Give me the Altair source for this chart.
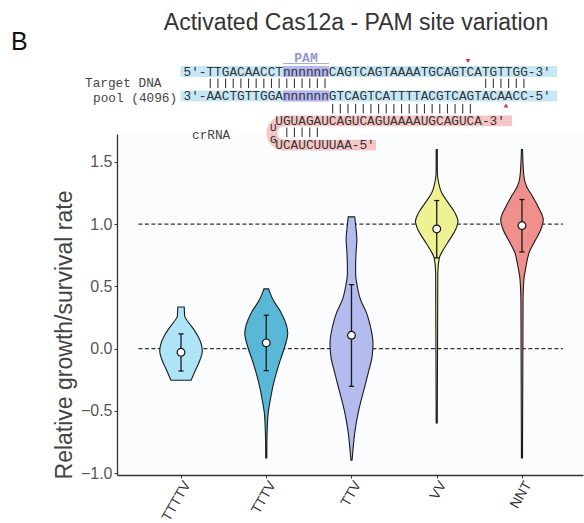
import math
import altair as alt
import pandas as pd

# ---- data -------------------------------------------------------------
categories = ["TTTTV", "TTTV", "TTV", "VV", "NNT"]
fill_colors = ["#aee5f6", "#59b8d8", "#b3bbef", "#eef292", "#f0908c"]

medians = [-0.03, 0.046, 0.107, 0.962, 0.989]
whisker_low = [-0.18, -0.177, -0.303, 0.729, 0.777]
whisker_high = [0.118, 0.268, 0.514, 1.19, 1.198]

# violin outlines: sampled values and normalised density (1 = widest)
violin_values = {
    "TTTTV": [0.335, 0.26, 0.206, 0.153, 0.099, 0.032, -0.021, -0.102, -0.182, -0.254],
    "TTTV": [0.48, 0.394, 0.287, 0.193, 0.126, 0.019, -0.088, -0.195, -0.303, -0.41,
             -0.517, -0.625, -0.75, -0.879],
    "TTV": [1.059, 0.983, 0.876, 0.769, 0.608, 0.501, 0.394, 0.287, 0.179, 0.046,
            -0.062, -0.195, -0.356, -0.517, -0.678, -0.812, -0.898],
    "VV": [1.60, 1.412, 1.332, 1.252, 1.171, 1.091, 1.024, 0.957, 0.876, 0.796,
           0.729, 0.608, -0.597],
    "NNT": [1.60, 1.385, 1.305, 1.224, 1.144, 1.037, 0.957, 0.876, 0.769, 0.662,
            0.555, 0.394, -0.879],
}
violin_density = {
    "TTTTV": [0.15, 0.17, 0.37, 0.60, 0.79, 0.95, 0.99, 0.86, 0.65, 0.47],
    "TTTV": [0.11, 0.31, 0.70, 0.93, 1.0, 0.87, 0.66, 0.47, 0.31, 0.19, 0.09, 0.05,
             0.03, 0.025],
    "TTV": [0.15, 0.2, 0.25, 0.21, 0.19, 0.27, 0.42, 0.70, 0.88, 1.0, 0.96, 0.78,
            0.54, 0.31, 0.15, 0.07, 0.025],
    "VV": [0.025, 0.03, 0.09, 0.23, 0.54, 0.85, 0.99, 0.88, 0.6, 0.31, 0.12, 0.05,
           0.025],
    "NNT": [0.025, 0.09, 0.21, 0.49, 0.74, 0.99, 0.88, 0.64, 0.33, 0.19, 0.09, 0.05,
            0.025],
}
reference_levels = [0.0, 1.0]

y_ticks = [-1.0, -0.5, 0.0, 0.5, 1.0, 1.5]

# sequence annotation
top_strand = "5'-TTGACAACCTnnnnnnCAGTCAGTAAAATGCAGTCATGTTGG-3'"
bottom_strand = "3'-AACTGTTGGAnnnnnnGTCAGTCATTTTACGTCAGTACAACC-5'"
crrna_top = "UGUAGAUCAGUCAGUAAAAUGCAGUCA-3'"
crrna_bottom = "UCAUCUUUAA-5'"
# paired base positions (character index along the strands)
dna_pairs = list(range(3, 19)) + list(range(39, 45))
guide_pairs = list(range(19, 38))
hairpin_pairs = list(range(13, 18))

# ---- layout helpers ---------------------------------------------------
LEFT, TOP = 117, 134          # plot origin inside the page
W, H = 466, 341
HALF = 0.252                  # widest violin half-width, in category units
MONO = "Liberation Mono"
SANS = "Liberation Sans"
FS = 12.75                    # monospace size
CW = FS * 0.6                 # monospace advance
X0 = 183.5                    # left edge of the strands


def px(x):
    return x - LEFT


def py(y):
    return y - TOP


def col(i):
    return X0 + i * CW


one = pd.DataFrame({"k": [0]})

rows = []
for i, c in enumerate(categories):
    for v, d in zip(violin_values[c], violin_density[c]):
        rows.append({"cat": c, "pos": i, "value": v,
                     "lo": i - d * HALF, "hi": i + d * HALF})
violins = pd.DataFrame(rows)

stats = pd.DataFrame({"cat": categories, "pos": list(range(len(categories))),
                      "median": medians, "low": whisker_low, "high": whisker_high})
refs = pd.DataFrame({"ref": reference_levels})

# base-pair bars: one short vertical stroke per paired base
bar_rows = []
for idxs, (y1, y2) in [(dna_pairs, (78.5, 88)), (guide_pairs, (104, 113.5)),
                       (hairpin_pairs, (127.5, 137))]:
    for i in idxs:
        bar_rows.append({"bx": px(col(i + 0.5)), "by1": py(y1), "by2": py(y2)})
bars = pd.DataFrame(bar_rows)

xscale = alt.Scale(domain=[-0.751, 4.716], nice=False, zero=False)
yscale = alt.Scale(domain=[-1.016, 1.725], nice=False, zero=False)

label_expr = "[" + ",".join("'%s'" % c for c in categories) + "][datum.value]"
xaxis = alt.Axis(values=list(range(len(categories))), labelExpr=label_expr, title=None,
                 grid=False, labelAngle=-60, labelAlign="right", labelBaseline="middle",
                 labelOffset=6, labelPadding=4, tickSize=3, labelFontSize=14,
                 labelFont=SANS, labelColor="#333", domainColor="#333", tickColor="#333",
                 domainWidth=1.3)
yaxis = alt.Axis(values=y_ticks, format=".1f", title=None, grid=False, tickSize=3,
                 labelPadding=2, labelFontSize=16, labelFont=SANS, labelColor="#555",
                 domainColor="#333", tickColor="#333", domainWidth=1.3)

dashes = alt.Chart(refs).mark_rule(color="#333", strokeDash=[4, 2.5], strokeWidth=1.2).encode(
    x=alt.datum(-0.5, scale=xscale, axis=xaxis),
    x2=alt.datum(4.48),
    y=alt.Y("ref:Q", scale=yscale, axis=yaxis),
)

violin_layer = alt.Chart(violins).mark_area(
    orient="horizontal", interpolate="monotone", stroke="#1a1a1a", strokeWidth=1.1,
    opacity=1,
).encode(
    y=alt.Y("value:Q", scale=yscale, axis=yaxis),
    x=alt.X("lo:Q", scale=xscale, axis=xaxis),
    x2="hi:Q",
    color=alt.Color("cat:N", scale=alt.Scale(domain=categories, range=fill_colors),
                    legend=None),
    detail="cat:N",
)

whiskers = alt.Chart(stats).mark_rule(color="#1a1a1a", strokeWidth=1.3).encode(
    x=alt.X("pos:Q", scale=xscale, axis=xaxis),
    y=alt.Y("low:Q", scale=yscale, axis=yaxis),
    y2="high:Q",
)

caps = []
for field in ["low", "high"]:
    caps.append(
        alt.Chart(stats).transform_calculate(a="datum.pos - 0.03", b="datum.pos + 0.03")
        .mark_rule(color="#1a1a1a", strokeWidth=1.3).encode(
            x=alt.X("a:Q", scale=xscale, axis=xaxis),
            x2="b:Q",
            y=alt.Y(f"{field}:Q", scale=yscale, axis=yaxis),
        )
    )

median_pts = alt.Chart(stats).mark_circle(
    color="white", stroke="#111", strokeWidth=1.2, size=60, opacity=1
).encode(
    x=alt.X("pos:Q", scale=xscale, axis=xaxis),
    y=alt.Y("median:Q", scale=yscale, axis=yaxis),
)


# ---- annotation marks (pixel positioned) -------------------------------
def text(s, x, y, size=FS, font=MONO, align="left", baseline="middle",
         color="#333", angle=0, weight="normal"):
    return alt.Chart(one).mark_text(
        text=s, font=font, fontSize=size, align=align, baseline=baseline,
        color=color, angle=angle, fontWeight=weight,
    ).encode(x=alt.value(px(x)), y=alt.value(py(y)))


def box(x1, x2, y1, y2, color):
    return alt.Chart(one).mark_rect(color=color).encode(
        x=alt.value(px(x1)), x2=alt.value(px(x2)),
        y=alt.value(py(y1)), y2=alt.value(py(y2)),
    )


BLUE = "#c6e8f6"
PURPLE = "#b4b7ee"
PINK = "#f6c5c5"

pair_bars = alt.Chart(bars).mark_rule(color="#3a3a3a", strokeWidth=1.1).encode(
    x=alt.X("bx:Q", scale=None, axis=None),
    y=alt.Y("by1:Q", scale=None, axis=None),
    y2="by2:Q",
)

annot = [
    # strand backgrounds
    box(180.5, 557, 66, 77, BLUE),
    box(180.5, 557, 90.5, 101.5, BLUE),
    box(col(13), col(19), 66, 77, PURPLE),
    box(col(13), col(19), 90.5, 101.5, PURPLE),
    # crRNA background with hairpin loop
    box(284, 512, 115.5, 126.3, PINK),
    box(284, 376, 139.7, 150.5, PINK),
    alt.Chart(one).mark_arc(theta=math.pi, theta2=2 * math.pi, radius=17.5,
                            radius2=6.7, color=PINK).encode(
        x=alt.value(px(284)), y=alt.value(py(133))),
    # PAM label
    text("PAM", 306, 57.5, size=13, color="#8f98cc", align="center", weight="bold"),
    alt.Chart(one).mark_rule(color="#a7aedb", strokeWidth=1.2).encode(
        x=alt.value(px(col(13))), x2=alt.value(px(col(19))),
        y=alt.value(py(63.5))),
    # cut sites
    alt.Chart(one).mark_point(shape="triangle-down", filled=True, color="#d8333b",
                              size=22, opacity=1).encode(
        x=alt.value(px(468)), y=alt.value(py(61))),
    alt.Chart(one).mark_point(shape="triangle-up", filled=True, color="#d8333b",
                              size=22, opacity=1).encode(
        x=alt.value(px(506)), y=alt.value(py(105.5))),
    # sequences
    text(top_strand, col(0), 71.5),
    text(bottom_strand, col(0), 96),
    text(crrna_top, col(12), 120.8),
    text(crrna_bottom, col(12), 145.2),
    text("U", 270, 127.8, size=11),
    text("G", 270, 140.3, size=11),
    text("Target DNA", 85, 83, color="#444"),
    text("pool (4096)", 93, 97.5, color="#444"),
    text("crRNA", 192, 135, color="#444"),
    # titles
    text("Activated Cas12a - PAM site variation", 356, 29.5, size=23, font=SANS,
         align="center", baseline="alphabetic", color="#333"),
    text("B", 11, 50, size=25, font=SANS, baseline="alphabetic", color="#111"),
    text("Relative growth/survival rate", 65, 335, size=23, font=SANS,
         align="center", color="#444", angle=270),
]

chart = alt.layer(
    dashes, violin_layer, whiskers, *caps, median_pts, *annot, pair_bars
).properties(
    width=W, height=H,
    padding={"left": LEFT, "top": TOP, "right": 584 - LEFT - W, "bottom": 523 - TOP - H},
    autosize=alt.AutoSizeParams(type="none"),
).configure_view(stroke=None, fill="#fbfcfe")

chart.save("out.html", embed_options={"renderer": "svg", "actions": False})
